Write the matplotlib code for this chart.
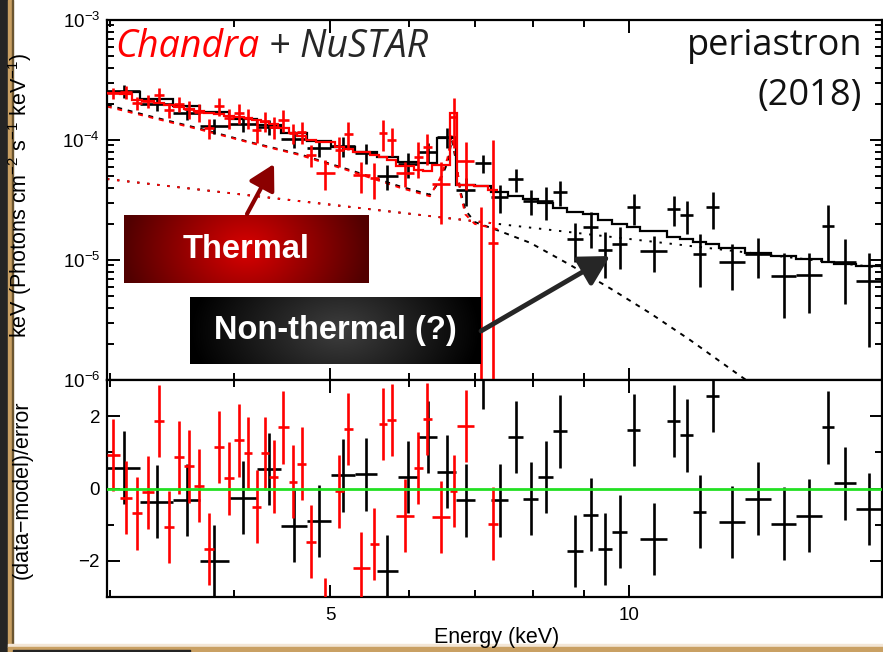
import numpy as np
import matplotlib.pyplot as plt
from matplotlib.ticker import FixedLocator, FixedFormatter, NullFormatter, LogLocator

plt.rcParams['font.family'] = ['Liberation Sans', 'DejaVu Sans']
plt.rcParams['mathtext.fontset'] = 'custom'
plt.rcParams['mathtext.rm'] = 'Liberation Sans'
plt.rcParams['mathtext.it'] = 'Liberation Sans:italic'

# --- NuSTAR (black) spectrum: bin edges in keV, unfolded flux, 1-sigma error, model, residuals
nu_edges = [2.98, 3.22, 3.47, 3.70, 3.95, 4.22, 4.46, 4.74, 5.01, 5.30, 5.57, 5.85, 6.13,
            6.41, 6.69, 7.00, 7.26, 7.55, 7.82, 8.10, 8.39, 8.66, 8.99, 9.31, 9.61, 9.95,
            10.26, 10.92, 11.26, 11.60, 11.95, 12.32, 13.09, 13.90, 14.73, 15.64, 16.09,
            16.93, 17.97]
nu_flux = [2.56e-4, 2.00e-4, 1.68e-4, 1.31e-4, 1.36e-4, 1.28e-4, 1.02e-4, 8.6e-5, 8.9e-5,
           7.8e-5, 5.0e-5, 6.3e-5, 8.0e-5, 1.06e-4, 3.8e-5, 6.4e-5, 3.35e-5, 4.7e-5, 3.1e-5,
           3.1e-5, 3.7e-5, 1.50e-5, 1.88e-5, 1.21e-5, 1.36e-5, 2.76e-5, 1.19e-5, 2.66e-5,
           2.37e-5, 1.12e-5, 2.76e-5, 9.6e-6, 1.12e-5, 7.4e-6, 7.5e-6, 1.92e-5, 9.6e-6, 6.7e-6]
nu_err = [3.1e-5, 2.4e-5, 2.0e-5, 1.9e-5, 2.0e-5, 1.85e-5, 1.7e-5, 1.4e-5, 1.7e-5, 1.5e-5,
          1.2e-5, 1.5e-5, 1.4e-5, 2.0e-5, 1.0e-5, 1.1e-5, 8.7e-6, 1.0e-5, 7.3e-6, 9.6e-6,
          8.6e-6, 5.4e-6, 6.3e-6, 5.0e-6, 5.2e-6, 7.9e-6, 3.9e-6, 7.5e-6, 7.3e-6, 5.3e-6,
          9.3e-6, 4.0e-6, 4.1e-6, 4.1e-6, 3.9e-6, 9.5e-6, 5.3e-6, 4.8e-6]
nu_model = [2.51e-4, 2.20e-4, 1.92e-4, 1.71e-4, 1.50e-4, 1.33e-4, 1.15e-4, 9.8e-5, 8.7e-5,
            7.9e-5, 7.2e-5, 6.6e-5, 6.4e-5, 1.04e-4, 4.2e-5, 4.1e-5, 3.7e-5, 3.4e-5, 3.2e-5,
            3.0e-5, 2.7e-5, 2.5e-5, 2.4e-5, 2.15e-5, 2.0e-5, 1.88e-5, 1.74e-5, 1.55e-5,
            1.50e-5, 1.41e-5, 1.36e-5, 1.26e-5, 1.14e-5, 1.08e-5, 1.02e-5, 9.6e-6, 9.3e-6, 8.9e-6]
nu_resid = [0.58, -0.36, -0.31, -2.0, -0.25, 0.53, -1.03, -0.89, 0.36, 0.39, -2.28, 0.31,
            1.42, 0.47, -0.33, 3.2, -0.33, 1.42, -0.28, 0.31, 1.58, -1.72, -0.72, -1.67,
            -1.19, 1.61, -1.39, 1.86, 1.47, -0.64, 2.55, -0.92, -0.28, -0.97, -0.75, 1.69,
            0.14, -0.56]

# --- Chandra (red) spectrum
ch_edges = [2.98, 3.07, 3.16, 3.23, 3.32, 3.40, 3.48, 3.56, 3.65, 3.73, 3.82, 3.91, 4.00,
            4.09, 4.17, 4.26, 4.34, 4.43, 4.54, 4.63, 4.73, 4.84, 5.05, 5.16, 5.27, 5.48,
            5.60, 5.71, 5.83, 6.07, 6.20, 6.33, 6.60, 6.71, 6.98, 7.21, 7.38]
ch_flux = [2.46e-4, 2.51e-4, 2.03e-4, 2.11e-4, 2.37e-4, 1.78e-4, 2.00e-4, 1.81e-4, 1.71e-4,
           1.26e-4, 1.92e-4, 1.53e-4, 1.68e-4, 1.53e-4, 1.21e-4, 1.44e-4, 1.28e-4, 1.47e-4,
           1.14e-4, 1.17e-4, 7.5e-5, 5.3e-5, 8.3e-5, 1.12e-4, 5.1e-5, 4.8e-5, 1.14e-4, 1.0e-4,
           5.3e-5, 7.2e-5, 8.7e-5, 4.3e-5, 1.55e-4, 6.7e-5, 2e-7, 1.38e-5]
ch_err = [2.5e-5, 3.1e-5, 2.5e-5, 2.6e-5, 3.4e-5, 2.6e-5, 2.9e-5, 3.0e-5, 2.9e-5, 2.4e-5,
          3.2e-5, 2.9e-5, 3.2e-5, 2.9e-5, 2.6e-5, 2.7e-5, 2.7e-5, 3.1e-5, 2.2e-5, 2.5e-5,
          1.6e-5, 1.5e-5, 2.3e-5, 2.9e-5, 1.5e-5, 1.6e-5, 3.3e-5, 2.6e-5, 1.25e-5, 2.4e-5,
          2.5e-5, 2.3e-5, 6.9e-5, 2.9e-5, 2.74e-5, 8.6e-5]
ch_model = [2.46e-4, 2.42e-4, 2.15e-4, 2.11e-4, 2.03e-4, 1.96e-4, 1.88e-4, 1.81e-4, 1.74e-4,
            1.68e-4, 1.65e-4, 1.58e-4, 1.55e-4, 1.53e-4, 1.47e-4, 1.41e-4, 1.36e-4, 1.26e-4,
            1.14e-4, 1.08e-4, 1.0e-4, 9.6e-5, 8.7e-5, 8.4e-5, 7.9e-5, 7.5e-5, 7.2e-5, 6.8e-5,
            6.1e-5, 5.6e-5, 5.5e-5, 6.2e-5, 1.68e-4, 4.2e-5, 4.1e-5, 3.8e-5]
ch_resid = [0.92, -0.25, -0.69, -0.11, 1.86, -1.06, 0.86, 0.61, 0.08, -1.67, 1.14, 0.28,
            1.33, 0.97, -0.5, 0.97, 0.33, 1.69, 0.19, 0.69, -1.47, -3.47, -0.08, 1.64, -2.19,
            -1.53, 1.78, 1.89, -0.75, 0.56, 1.92, -0.78, -0.06, 1.72, np.nan, -0.97]

# --- model components
therm_e = [2.98, 3.29, 3.70, 4.15, 4.66, 5.24, 5.88, 6.30, 6.45, 6.56, 6.63, 6.69, 6.76,
           6.84, 6.99, 7.41, 7.95, 8.72, 9.57, 10.50, 11.52, 12.94, 13.55]
therm_nu = [1.96e-4, 1.58e-4, 1.24e-4, 9.6e-5, 7.6e-5, 5.6e-5, 4.1e-5, 3.5e-5, 4.6e-5, 6.4e-5,
            1.0e-4, 6.8e-5, 3.8e-5, 2.6e-5, 2.07e-5, 1.74e-5, 1.39e-5, 9.1e-6, 5.8e-6, 3.6e-6,
            2.15e-6, 1.08e-6, 8.3e-7]
therm_ch_e = [2.98, 3.29, 3.70, 4.15, 4.66, 5.24, 5.88, 6.30, 6.45, 6.56, 6.63, 6.69, 6.76,
              6.84, 6.99, 7.38]
therm_ch = [1.90e-4, 1.55e-4, 1.22e-4, 9.5e-5, 7.5e-5, 5.5e-5, 4.0e-5, 3.4e-5, 4.8e-5, 7.0e-5,
            1.1e-4, 7.2e-5, 3.6e-5, 2.4e-5, 2.0e-5, 1.8e-5]
pl_nu_e = [2.98, 17.97]
pl_nu = [4.73e-5, 8.58e-6]
pl_ch_e = [2.98, 7.38]
pl_ch = [4.73e-5, 2.0e-5]

W, H = 883, 652
fig = plt.figure(figsize=(W / 100, H / 100), dpi=100)
fig.patch.set_facecolor('white')

def fx(px):
    return px / W

def fy(py):
    return 1 - py / H

left, right = 107, 882
ax1 = fig.add_axes([fx(left), fy(380), (right - left) / W, 360 / H])
ax2 = fig.add_axes([fx(left), fy(597), (right - left) / W, 217 / H])


def crosses(ax, edges, y, yerr, color, log=True, lw=1.9, z=3):
    e = np.asarray(edges)
    lo, hi = e[:-1], e[1:]
    c = np.sqrt(lo * hi)
    y = np.asarray(y, dtype=float)
    yerr = np.broadcast_to(np.asarray(yerr, dtype=float), y.shape)
    ylo = y - np.maximum(y - yerr, 1e-9) if log else yerr
    ax.errorbar(c, y, xerr=[c - lo, hi - c], yerr=[ylo, yerr], fmt='none',
                ecolor=color, elinewidth=lw, capsize=0, zorder=z)


# top panel: unfolded spectra
ax1.plot(pl_nu_e, pl_nu, color='black', lw=1.4, ls=(0, (1.2, 4)), zorder=2)
ax1.plot(therm_e, therm_nu, color='black', lw=1.4, ls=(0, (2.5, 3)), zorder=2)
ax1.plot(pl_ch_e, pl_ch, color='red', lw=1.4, ls=(0, (1.2, 4)), zorder=2)
ax1.plot(therm_ch_e, therm_ch, color='red', lw=1.4, ls=(0, (2.5, 3)), zorder=2)
ax1.stairs(nu_model, nu_edges, baseline=None, color='black', lw=1.6, zorder=3)
crosses(ax1, nu_edges, nu_flux, nu_err, 'black', z=3)
ax1.stairs(ch_model, ch_edges, baseline=None, color='red', lw=1.6, zorder=4)
crosses(ax1, ch_edges, ch_flux, ch_err, 'red', z=4)

ax1.set_xscale('log')
ax1.set_yscale('log')
ax1.set_xlim(2.98, 17.97)
ax1.set_ylim(1e-6, 1e-3)

# bottom panel: residuals
crosses(ax2, nu_edges, nu_resid, 1.0, 'black', log=False, z=3)
crosses(ax2, ch_edges, ch_resid, 1.0, 'red', log=False, z=4)
ax2.axhline(0, color='#22e022', lw=2, zorder=6)
ax2.set_xscale('log')
ax2.set_xlim(2.98, 17.97)
ax2.set_ylim(-3, 3)

for ax in (ax1, ax2):
    for s in ax.spines.values():
        s.set_linewidth(1.6)
    ax.xaxis.set_major_locator(FixedLocator([5, 10]))
    ax.xaxis.set_minor_locator(FixedLocator([3, 4, 6, 7, 8, 9]))
    ax.xaxis.set_minor_formatter(NullFormatter())
    ax.tick_params(which='both', direction='in', top=True, right=True, width=1.4,
                   labelsize=13.5, color='black')
    ax.tick_params(which='major', length=9)
    ax.tick_params(which='minor', length=5)
    ax.tick_params(axis='x', pad=7)
    ax.tick_params(axis='y', pad=5)

ax1.xaxis.set_major_formatter(NullFormatter())
ax1.yaxis.set_major_locator(LogLocator(base=10, numticks=10))
ax1.yaxis.set_minor_locator(LogLocator(base=10, subs=np.arange(2, 10), numticks=10))
ax1.yaxis.set_minor_formatter(NullFormatter())
ax2.xaxis.set_major_formatter(FixedFormatter(['5', '10']))
ax2.yaxis.set_major_locator(FixedLocator([-2, 0, 2]))
ax2.yaxis.set_minor_locator(FixedLocator([-3, -1, 1, 3]))

fig.text(fx(20), fy(195), r'keV (Photons cm$^{-2}$ s$^{-1}$ keV$^{-1}$)', rotation=90,
         ha='center', va='center', fontsize=15.5)
fig.text(fx(22), fy(490), '(data\u2212model)/error', rotation=90,
         ha='center', va='center', fontsize=15.5)
fig.text(fx(497), fy(637), 'Energy (keV)', ha='center', va='center', fontsize=15.5)

# instrument and orbital phase labels
t1 = fig.text(fx(115), fy(57), 'Chandra', color='red', fontsize=27, style='italic',
              family=['Open Sans', 'DejaVu Sans'], va='baseline')
fig.canvas.draw()
bb = t1.get_window_extent(fig.canvas.get_renderer())
fig.text(bb.x1 / W, fy(57), ' + NuSTAR', color='#262626', fontsize=27, style='italic',
         family=['Open Sans', 'DejaVu Sans'], va='baseline')
fig.text(fx(862), fy(55), 'periastron', color='#111111', fontsize=26, ha='right',
         family=['Open Sans', 'DejaVu Sans'], va='baseline')
fig.text(fx(862), fy(105), '(2018)', color='#111111', fontsize=26, ha='right',
         family=['Open Sans', 'DejaVu Sans'], va='baseline')

# overlay in pixel coordinates for the callout boxes and frame
ov = fig.add_axes([0, 0, 1, 1])
ov.patch.set_visible(False)
ov.axis('off')


def gradient_box(x0, y0, x1, y1, center, edge, cx=0.5):
    nx, ny = 200, 40
    gx = np.linspace(0, 1, nx)[None, :]
    gy = np.linspace(-1, 1, ny)[:, None]
    dx = np.where(gx < cx, (cx - gx) / cx, (gx - cx) / (1 - cx))
    d = np.clip(np.sqrt(dx ** 2 + (0.35 * gy) ** 2), 0, 1)
    c0 = np.array(center)[None, None, :] / 255
    c1 = np.array(edge)[None, None, :] / 255
    img = c0 * (1 - d[..., None]) + c1 * d[..., None]
    ov.imshow(img, extent=(x0, x1, y1, y0), aspect='auto', zorder=5, interpolation='bilinear')


gradient_box(124, 215, 369, 283, (218, 0, 0), (82, 0, 0))
ov.text(246, 250, 'Thermal', color='white', fontsize=23.5, fontweight='bold',
        ha='center', va='center', zorder=6)
gradient_box(190, 297, 481, 364, (62, 62, 62), (0, 0, 0), cx=0.52)
ov.text(335, 331, 'Non-thermal (?)', color='white', fontsize=23.5, fontweight='bold',
        ha='center', va='center', zorder=6)

ov.annotate('', xy=(274, 164), xytext=(247, 214),
            arrowprops=dict(arrowstyle='-|>,head_width=0.5,head_length=0.9',
                            color='#8b0000', lw=3, shrinkA=0, shrinkB=0,
                            mutation_scale=17), zorder=6)
ov.annotate('', xy=(610, 256), xytext=(481, 331),
            arrowprops=dict(arrowstyle='-|>,head_width=0.5,head_length=0.9',
                            color='#262626', lw=3.5, shrinkA=0, shrinkB=0,
                            mutation_scale=20), zorder=6)

# slide frame along the left and bottom edges
ov.fill_between([0, 8], 0, H, color='#242424', zorder=7)
ov.fill_between([8, 12.3], 0, H, color='#c9a063', zorder=7)
ov.fill_between([12.3, 13.3], 0, H, color='#6b5530', zorder=7)
ov.fill_between([8, W], 644, 647, color='#f3e6d6', zorder=7)
ov.fill_between([8, W], 647, H, color='#c9a063', zorder=7)
ov.fill_between([13, 190], 649.5, H, color='#242424', zorder=7)
ov.set_xlim(0, W)
ov.set_ylim(H, 0)

fig.savefig('out.png', dpi=100)
